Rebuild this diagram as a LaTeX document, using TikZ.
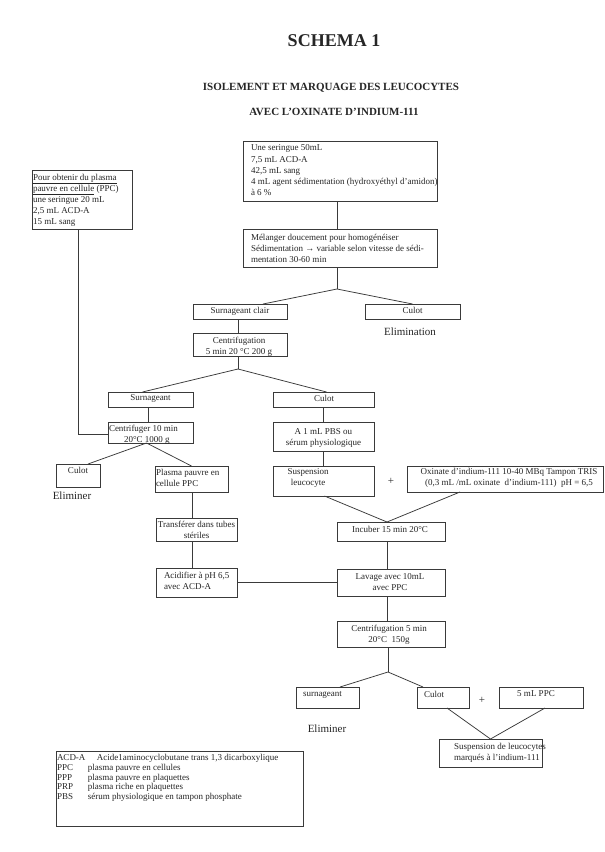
\documentclass[tikz,border=0pt]{standalone}
\usepackage{fontspec}
\setmainfont{Liberation Serif}
\definecolor{ink}{HTML}{262626}
\definecolor{rule}{HTML}{3A3A3A}
\begin{document}
\begin{tikzpicture}[x=1pt,y=-1pt,
  bx/.style={draw=rule, line width=0.75pt, inner sep=0pt, outer sep=0pt, anchor=north west},
  tx/.style={font=\fontsize{9}{11}\selectfont, text=ink, inner sep=0pt, outer sep=0pt, align=left, yshift=-1.5pt},
  txc/.style={tx, align=center},
  big/.style={font=\fontsize{11}{13}\selectfont, text=ink, inner sep=0pt},
  ln/.style={draw=rule, line width=0.75pt}]
\fill[white] (0,0) rectangle (605,852);
\useasboundingbox (0,0) rectangle (605,852);

% titles
\node[font=\fontsize{18}{20}\selectfont\bfseries, text=ink] (title) at (334,41) {SCHEMA 1};
\node[font=\fontsize{11}{13}\selectfont\bfseries, text=ink] (sub1) at (331,88) {ISOLEMENT ET MARQUAGE DES LEUCOCYTES};
\node[font=\fontsize{11}{13}\selectfont\bfseries, text=ink] (sub2) at (334,112) {AVEC L'OXINATE D'INDIUM-111};

% boxes
\node[bx, minimum width=194pt, minimum height=60pt] (A) at (243,141) {};
\node[tx, anchor=north west, font=\fontsize{9}{11.25}\selectfont] (At) at (251,143.5) {Une seringue 50mL\\7,5 mL ACD-A\\42,5 mL sang\\4 mL agent sédimentation (hydroxyéthyl d'amidon)\\à 6 \%};

\node[bx, minimum width=194pt, minimum height=38pt] (B) at (243,229) {};
\node[tx, anchor=north west, font=\fontsize{9}{11.25}\selectfont] (Bt) at (251,232.5) {Mélanger doucement pour homogénéiser\\Sédimentation → variable selon vitesse de sédi-\\mentation 30-60 min};

\node[bx, minimum width=100pt, minimum height=59pt] (PPC) at (32,170) {};
\node[tx, anchor=north west, font=\fontsize{9}{11}\selectfont] (PPCt) at (33,172.5) {\underline{Pour obtenir du plasma}\\\underline{pauvre en cellule} (PPC)\\une seringue 20 mL\\2,5 mL ACD-A\\15 mL sang};

\node[bx, minimum width=94pt, minimum height=15pt] (Sc) at (193,304) {};
\node[txc, anchor=north] (Sct) at (240,305.5) {Surnageant clair};
\node[bx, minimum width=95pt, minimum height=15pt] (C1) at (365,304) {};
\node[txc, anchor=north] (C1t) at (412.5,305.5) {Culot};
\node[big] (elim) at (410,332) {Elimination};

\node[bx, minimum width=94pt, minimum height=23pt] (Cg) at (193,333) {};
\node[txc, anchor=north] (Cgt) at (239,335.5) {Centrifugation\\5 min 20 °C 200 g};

\node[bx, minimum width=85pt, minimum height=15pt] (Sn) at (108,392) {};
\node[txc, anchor=north] (Snt) at (150.5,393.5) {Surnageant};
\node[bx, minimum width=101pt, minimum height=15pt] (C2) at (273,392) {};
\node[txc, anchor=north] (C2t) at (324,393.5) {Culot};

\node[bx, minimum width=85pt, minimum height=21pt] (Cf) at (108,422) {};
\node[tx, anchor=north west] (Cft) at (109,423.5) {Centrifuger 10 min\\\hspace*{15pt}20°C 1000 g};

\node[bx, minimum width=44pt, minimum height=23pt] (C3) at (56,464) {};
\node[txc, anchor=north] (C3t) at (78,465.5) {Culot};
\node[big] (elim2) at (72,496) {Eliminer};

\node[bx, minimum width=73pt, minimum height=26pt] (Pl) at (155,466) {};
\node[tx, anchor=north west] (Plt) at (156,467.5) {Plasma pauvre en\\cellule PPC};

\node[bx, minimum width=101pt, minimum height=29pt] (A1) at (273,422) {};
\node[txc, anchor=north] (A1t) at (323.5,427.5) {A 1 mL PBS ou\\sérum physiologique};

\node[bx, minimum width=101pt, minimum height=30pt] (Su) at (273,466) {};
\node[txc, anchor=north] (Sut) at (308,467.5) {Suspension\\leucocyte};

\node[font=\fontsize{11}{13}\selectfont, text=ink, inner sep=0pt] (plus1) at (391,481) {+};

\node[bx, minimum width=196pt, minimum height=26pt] (Ox) at (407,466) {};
\node[txc, anchor=north] (Oxt) at (509,466.5) {Oxinate d'indium-111 10-40 MBq Tampon TRIS\\(0,3 mL /mL oxinate\ \ d'indium-111)\ \ pH = 6,5};

\node[bx, minimum width=81pt, minimum height=23pt] (Tr) at (156,518) {};
\node[txc, anchor=north] (Trt) at (196.5,519.5) {Transférer dans tubes\\stériles};

\node[bx, minimum width=81pt, minimum height=29pt] (Ac) at (156,568) {};
\node[tx, anchor=north west] (Act) at (164,570.5) {Acidifier à pH 6,5\\avec ACD-A};

\node[bx, minimum width=108pt, minimum height=19pt] (Inc) at (337,522) {};
\node[txc, anchor=north] (Inct) at (390,524.5) {Incuber 15 min 20°C};

\node[bx, minimum width=108pt, minimum height=27pt] (Lv) at (337,569) {};
\node[txc, anchor=north] (Lvt) at (390,572.5) {Lavage avec 10mL\\avec PPC};

\node[bx, minimum width=108pt, minimum height=26pt] (Cg2) at (337,621) {};
\node[txc, anchor=north] (Cg2t) at (389,623.5) {Centrifugation 5 min\\20°C\ \ 150g};

\node[bx, minimum width=63pt, minimum height=21pt] (sn2) at (296,687) {};
\node[tx, anchor=north west] (sn2t) at (303,689.5) {surnageant};
\node[bx, minimum width=52pt, minimum height=21pt] (C4) at (417,687) {};
\node[tx, anchor=north west] (C4t) at (424,689.5) {Culot};
\node[font=\fontsize{11}{13}\selectfont, text=ink, inner sep=0pt] (plus2) at (482,700) {+};
\node[bx, minimum width=84pt, minimum height=21pt] (P5) at (499,687) {};
\node[txc, anchor=north] (P5t) at (536,689.5) {5 mL PPC};
\node[big] (elim3) at (327,729) {Eliminer};

\node[bx, minimum width=103pt, minimum height=28pt] (S2) at (439,739) {};
\node[tx, anchor=north west] (S2t) at (454,741.5) {Suspension de leucocytes\\marqués à l'indium-111};

\node[bx, minimum width=247pt, minimum height=75pt] (Lg) at (56,751) {};
\node[tx, anchor=north west, font=\fontsize{9}{9.4}\selectfont] (Lgt) at (57,752.5) {\makebox[40pt][l]{ACD-A}Acide1aminocyclobutane trans 1,3 dicarboxylique\\[1.2pt]\makebox[31pt][l]{PPC}plasma pauvre en cellules\\\makebox[31pt][l]{PPP}plasma pauvre en plaquettes\\\makebox[31pt][l]{PRP}plasma riche en plaquettes\\\makebox[31pt][l]{PBS}sérum physiologique en tampon phosphate};

% connectors
\coordinate (b1) at (337,289);
\draw[ln] (A.south -| b1) -- (B.north -| b1);
\draw[ln] (B.south -| b1) -- (b1);
\draw[ln] (b1) -- ([xshift=23pt]Sc.north);
\draw[ln] (b1) -- (C1.north);

\coordinate (b2) at (238,369);
\draw[ln] (Sc.south -| b2) -- (Cg.north -| b2);
\draw[ln] (Cg.south -| b2) -- (b2);
\draw[ln] (b2) -- ([xshift=-8pt]Sn.north);
\draw[ln] (b2) -- ([xshift=3pt]C2.north);

\coordinate (c1) at (78,434);
\draw[ln] (PPC.south -| c1) -- (c1) -- (c1 -| Cf.west);

\draw[ln] ([xshift=-2pt]Sn.south) -- ([xshift=-2pt]Cf.north);
\coordinate (b3) at ([xshift=-4pt]Cf.south);
\draw[ln] (b3) -- ([xshift=10pt]C3.north);
\draw[ln] (b3) -- (Pl.north);

\draw[ln] ([xshift=1pt]Pl.south) -- ([xshift=1pt]Pl.south |- Tr.north);
\draw[ln] ([xshift=1pt]Pl.south |- Tr.south) -- ([xshift=1pt]Pl.south |- Ac.north);
\draw[ln] (Ac.east) -- (Lv.west);

\draw[ln] (C2.south) -- (A1.north);
\draw[ln] (A1.south) -- (Su.north);
\coordinate (b4) at ([xshift=-4pt]Inc.north);
\draw[ln] ([xshift=1pt]Su.south) -- (b4);
\draw[ln] ([xshift=-45pt]Ox.south) -- (b4);

\draw[ln] ([xshift=-4pt]Inc.south) -- ([xshift=-4pt]Lv.north);
\draw[ln] ([xshift=-4pt]Lv.south) -- ([xshift=-4pt]Cg2.north);
\coordinate (b5) at (388,672);
\draw[ln] ([xshift=-3pt]Cg2.south) -- (b5);
\draw[ln] (b5) -- ([xshift=12.5pt]sn2.north);
\draw[ln] (b5) -- ([xshift=-20pt]C4.north);

\draw[ln] ([xshift=4pt]C4.south) -- (S2.north);
\draw[ln] ([xshift=4pt]P5.south) -- (S2.north);
\end{tikzpicture}
\end{document}
